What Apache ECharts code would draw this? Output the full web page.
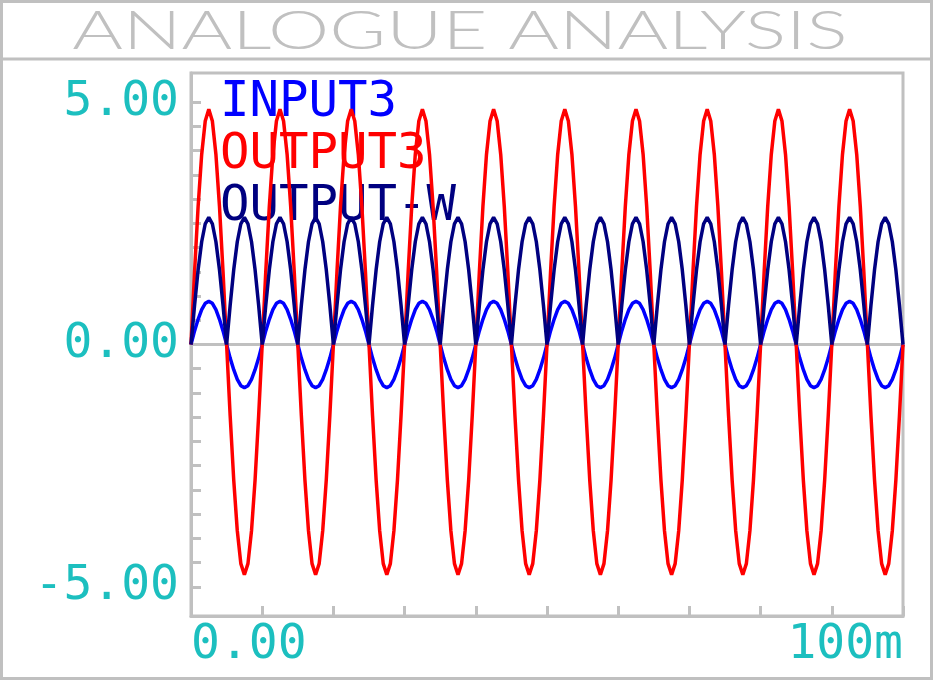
<!DOCTYPE html>
<html>
<head>
<meta charset="utf-8">
<script src="https://cdn.jsdelivr.net/npm/echarts@6/dist/echarts.min.js"></script>
<style>
html,body{margin:0;padding:0;background:#fff;}
#chart{width:934px;height:681px;}
</style>
</head>
<body>
<div id="chart"></div>
<script>
// ---- data ----
const titleText = 'ANALOGUE ANALYSIS';
const seriesNames = ['INPUT3', 'OUTPUT3', 'OUTPUT-W'];
const seriesColors = ['#0000ff', '#ff0000', '#000080'];
const timeStepMs = 0.5;   // sample spacing, 0 .. 100 ms

const input3 = [
  0, 0.28, 0.52, 0.72, 0.85, 0.89, 0.85, 0.72, 0.52, 0.28, 0, -0.28, -0.52, -0.72, -0.85, -0.89, -0.85, -0.72, -0.52, -0.28,
  0, 0.28, 0.52, 0.72, 0.85, 0.89, 0.85, 0.72, 0.52, 0.28, 0, -0.28, -0.52, -0.72, -0.85, -0.89, -0.85, -0.72, -0.52, -0.28,
  0, 0.28, 0.52, 0.72, 0.85, 0.89, 0.85, 0.72, 0.52, 0.28, 0, -0.28, -0.52, -0.72, -0.85, -0.89, -0.85, -0.72, -0.52, -0.28,
  0, 0.28, 0.52, 0.72, 0.85, 0.89, 0.85, 0.72, 0.52, 0.28, 0, -0.28, -0.52, -0.72, -0.85, -0.89, -0.85, -0.72, -0.52, -0.28,
  0, 0.28, 0.52, 0.72, 0.85, 0.89, 0.85, 0.72, 0.52, 0.28, 0, -0.28, -0.52, -0.72, -0.85, -0.89, -0.85, -0.72, -0.52, -0.28,
  0, 0.28, 0.52, 0.72, 0.85, 0.89, 0.85, 0.72, 0.52, 0.28, 0, -0.28, -0.52, -0.72, -0.85, -0.89, -0.85, -0.72, -0.52, -0.28,
  0, 0.28, 0.52, 0.72, 0.85, 0.89, 0.85, 0.72, 0.52, 0.28, 0, -0.28, -0.52, -0.72, -0.85, -0.89, -0.85, -0.72, -0.52, -0.28,
  0, 0.28, 0.52, 0.72, 0.85, 0.89, 0.85, 0.72, 0.52, 0.28, 0, -0.28, -0.52, -0.72, -0.85, -0.89, -0.85, -0.72, -0.52, -0.28,
  0, 0.28, 0.52, 0.72, 0.85, 0.89, 0.85, 0.72, 0.52, 0.28, 0, -0.28, -0.52, -0.72, -0.85, -0.89, -0.85, -0.72, -0.52, -0.28,
  0, 0.28, 0.52, 0.72, 0.85, 0.89, 0.85, 0.72, 0.52, 0.28, 0, -0.28, -0.52, -0.72, -0.85, -0.89, -0.85, -0.72, -0.52, -0.28,
  0
];

const output3 = [
  0, 1.50, 2.85, 3.92, 4.61, 4.85, 4.61, 3.92, 2.85, 1.50, 0, -1.47, -2.79, -3.84, -4.52, -4.75, -4.52, -3.84, -2.79, -1.47,
  0, 1.50, 2.85, 3.92, 4.61, 4.85, 4.61, 3.92, 2.85, 1.50, 0, -1.47, -2.79, -3.84, -4.52, -4.75, -4.52, -3.84, -2.79, -1.47,
  0, 1.50, 2.85, 3.92, 4.61, 4.85, 4.61, 3.92, 2.85, 1.50, 0, -1.47, -2.79, -3.84, -4.52, -4.75, -4.52, -3.84, -2.79, -1.47,
  0, 1.50, 2.85, 3.92, 4.61, 4.85, 4.61, 3.92, 2.85, 1.50, 0, -1.47, -2.79, -3.84, -4.52, -4.75, -4.52, -3.84, -2.79, -1.47,
  0, 1.50, 2.85, 3.92, 4.61, 4.85, 4.61, 3.92, 2.85, 1.50, 0, -1.47, -2.79, -3.84, -4.52, -4.75, -4.52, -3.84, -2.79, -1.47,
  0, 1.50, 2.85, 3.92, 4.61, 4.85, 4.61, 3.92, 2.85, 1.50, 0, -1.47, -2.79, -3.84, -4.52, -4.75, -4.52, -3.84, -2.79, -1.47,
  0, 1.50, 2.85, 3.92, 4.61, 4.85, 4.61, 3.92, 2.85, 1.50, 0, -1.47, -2.79, -3.84, -4.52, -4.75, -4.52, -3.84, -2.79, -1.47,
  0, 1.50, 2.85, 3.92, 4.61, 4.85, 4.61, 3.92, 2.85, 1.50, 0, -1.47, -2.79, -3.84, -4.52, -4.75, -4.52, -3.84, -2.79, -1.47,
  0, 1.50, 2.85, 3.92, 4.61, 4.85, 4.61, 3.92, 2.85, 1.50, 0, -1.47, -2.79, -3.84, -4.52, -4.75, -4.52, -3.84, -2.79, -1.47,
  0, 1.50, 2.85, 3.92, 4.61, 4.85, 4.61, 3.92, 2.85, 1.50, 0, -1.47, -2.79, -3.84, -4.52, -4.75, -4.52, -3.84, -2.79, -1.47,
  0
];

const outputW = [
  0, 0.81, 1.54, 2.12, 2.49, 2.62, 2.49, 2.12, 1.54, 0.81, 0, 0.81, 1.54, 2.12, 2.49, 2.62, 2.49, 2.12, 1.54, 0.81,
  0, 0.81, 1.54, 2.12, 2.49, 2.62, 2.49, 2.12, 1.54, 0.81, 0, 0.81, 1.54, 2.12, 2.49, 2.62, 2.49, 2.12, 1.54, 0.81,
  0, 0.81, 1.54, 2.12, 2.49, 2.62, 2.49, 2.12, 1.54, 0.81, 0, 0.81, 1.54, 2.12, 2.49, 2.62, 2.49, 2.12, 1.54, 0.81,
  0, 0.81, 1.54, 2.12, 2.49, 2.62, 2.49, 2.12, 1.54, 0.81, 0, 0.81, 1.54, 2.12, 2.49, 2.62, 2.49, 2.12, 1.54, 0.81,
  0, 0.81, 1.54, 2.12, 2.49, 2.62, 2.49, 2.12, 1.54, 0.81, 0, 0.81, 1.54, 2.12, 2.49, 2.62, 2.49, 2.12, 1.54, 0.81,
  0, 0.81, 1.54, 2.12, 2.49, 2.62, 2.49, 2.12, 1.54, 0.81, 0, 0.81, 1.54, 2.12, 2.49, 2.62, 2.49, 2.12, 1.54, 0.81,
  0, 0.81, 1.54, 2.12, 2.49, 2.62, 2.49, 2.12, 1.54, 0.81, 0, 0.81, 1.54, 2.12, 2.49, 2.62, 2.49, 2.12, 1.54, 0.81,
  0, 0.81, 1.54, 2.12, 2.49, 2.62, 2.49, 2.12, 1.54, 0.81, 0, 0.81, 1.54, 2.12, 2.49, 2.62, 2.49, 2.12, 1.54, 0.81,
  0, 0.81, 1.54, 2.12, 2.49, 2.62, 2.49, 2.12, 1.54, 0.81, 0, 0.81, 1.54, 2.12, 2.49, 2.62, 2.49, 2.12, 1.54, 0.81,
  0, 0.81, 1.54, 2.12, 2.49, 2.62, 2.49, 2.12, 1.54, 0.81, 0, 0.81, 1.54, 2.12, 2.49, 2.62, 2.49, 2.12, 1.54, 0.81,
  0
];

const xMin = 0, xMax = 100, xTickStep = 10;
const xLabelValues = [0, 100];
const xLabelTexts = ['0.00', '100m'];
const yMin = -5.6, yMax = 5.6;
const yTickValues = [-5, -4.5, -4, -3.5, -3, -2.5, -2, -1.5, -1, -0.5, 0, 0.5, 1, 1.5, 2, 2.5, 3, 3.5, 4, 4.5, 5];
const yLabelValues = [-5, 0, 5];
const yLabelTexts = ['-5.00', '0.00', '5.00'];
const zeroLevel = 0;

// ---- styling ----
const GRAY = '#c0c0c0';
const CYAN = '#1cbfbf';
const MONO = '"DejaVu Sans Mono", "Liberation Mono", monospace';

const toPairs = arr => arr.map((v, i) => [i * timeStepMs, v]);

const chart = echarts.init(document.getElementById('chart'), null, {renderer: 'canvas'});

const lineSeries = [input3, output3, outputW].map((arr, k) => ({
  name: seriesNames[k],
  type: 'line',
  data: toPairs(arr),
  showSymbol: false,
  symbol: 'none',
  lineStyle: {color: seriesColors[k], width: 3.5},
  itemStyle: {color: seriesColors[k]},
  z: 3 + k,
  animation: false
}));

const option = {
  animation: false,
  backgroundColor: '#ffffff',
  grid: {
    left: 191, right: 31, top: 73, bottom: 65,
    show: true, borderColor: GRAY, borderWidth: 3, backgroundColor: 'transparent'
  },
  legend: {
    orient: 'vertical',
    left: 209, top: 72,
    icon: 'none',
    itemWidth: 1, itemHeight: 52, itemGap: 0,
    selectedMode: false,
    data: seriesNames.map((n, k) => ({name: n, textStyle: {color: seriesColors[k]}})),
    textStyle: {fontFamily: MONO, fontSize: 49, lineHeight: 52, padding: 0}
  },
  xAxis: {
    type: 'value', min: xMin, max: xMax, interval: xTickStep,
    axisLine: {show: true, onZero: false, lineStyle: {color: GRAY, width: 3}},
    axisTick: {show: true, inside: true, length: 10, lineStyle: {color: GRAY, width: 3}},
    splitLine: {show: false},
    axisLabel: {
      show: true, color: CYAN, fontFamily: MONO, fontSize: 48, margin: 6,
      showMinLabel: true, showMaxLabel: true,
      alignMinLabel: 'left', alignMaxLabel: 'right',
      formatter: v => { const i = xLabelValues.indexOf(v); return i >= 0 ? xLabelTexts[i] : ''; }
    }
  },
  yAxis: {
    type: 'value', min: yMin, max: yMax,
    axisLine: {show: true, onZero: false, lineStyle: {color: GRAY, width: 3}},
    axisTick: {show: true, inside: true, length: 10, customValues: yTickValues, lineStyle: {color: GRAY, width: 3}},
    splitLine: {show: false},
    axisLabel: {
      show: true, color: CYAN, fontFamily: MONO, fontSize: 48, margin: 12,
      customValues: yLabelValues,
      formatter: v => { const i = yLabelValues.indexOf(v); return i >= 0 ? yLabelTexts[i] : ''; }
    }
  },
  series: [{
    name: 'zero', type: 'line', silent: true, showSymbol: false, symbol: 'none',
    data: [[xMin, zeroLevel], [xMax, zeroLevel]],
    lineStyle: {color: GRAY, width: 3}, z: 2, animation: false
  }].concat(lineSeries),
  graphic: [
    {type: 'rect', shape: {x: 1.5, y: 1.5, width: 930, height: 677}, style: {fill: 'none', stroke: GRAY, lineWidth: 3}, silent: true},
    {type: 'line', shape: {x1: 1.5, y1: 59, x2: 931.5, y2: 59}, style: {stroke: GRAY, lineWidth: 3}, silent: true},
    {type: 'text', x: 460, y: 32, scaleX: 1.46, scaleY: 1,
     style: {text: titleText, fill: GRAY, font: '300 53px Lato, "DejaVu Sans", sans-serif', align: 'center', verticalAlign: 'middle'}, silent: true}
  ]
};
chart.setOption(option);
</script>
</body>
</html>
